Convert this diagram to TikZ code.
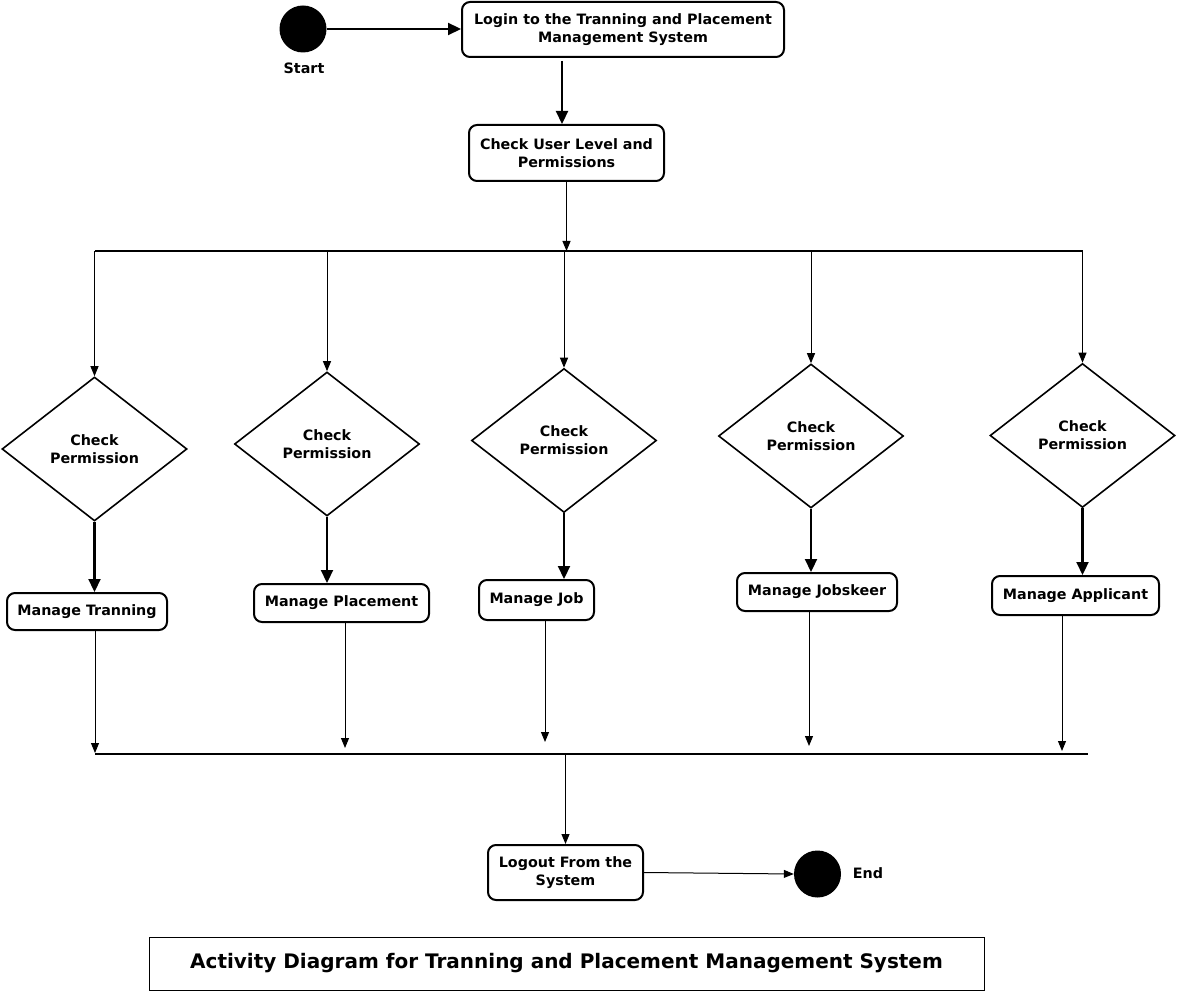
\documentclass[tikz,border=0pt]{standalone}
\usepackage{fontspec}
\setmainfont{DejaVu Sans}
\usetikzlibrary{shapes.geometric,arrows.meta}
\begin{document}
\begin{tikzpicture}[x=1pt,y=-1pt,
  lbl/.style={font=\fontsize{14.3}{18}\selectfont\bfseries, align=center},
  box/.style={draw, line width=2pt, rounded corners=8pt, inner sep=0pt, lbl},
  dec/.style={draw, diamond, line width=1.6pt, minimum width=185pt, minimum height=144pt, inner sep=0pt, lbl},
  dot/.style={circle, fill=black, minimum size=47pt, inner sep=0pt},
  thk/.style={line width=2.2pt, -{Triangle[length=13pt,width=12pt]}},
  thn/.style={line width=1pt, -{Triangle[length=10pt,width=8pt]}},
  bar/.style={line width=1.8pt}
]
\useasboundingbox[fill=white] (0,0) rectangle (1178,992);

% start / login / check
\node[dot] (start) at (303,29) {};
\node[lbl] (startl) at (304,68) {Start};
\node[box, minimum width=322pt, minimum height=55pt] (login) at (623,29.5) {Login to the Tranning and Placement\\Management System};
\node[box, minimum width=195pt, minimum height=56pt] (check) at (566.5,153) {Check User Level and\\Permissions};

% decisions
\node[dec] (d1) at (94.5,449) {Check\\Permission};
\node[dec] (d2) at (327,444) {Check\\Permission};
\node[dec] (d3) at (564,440.5) {Check\\Permission};
\node[dec] (d4) at (811,436) {Check\\Permission};
\node[dec] (d5) at (1082.5,435.5) {Check\\Permission};

% activities
\node[box, minimum width=160pt, minimum height=37pt] (m1) at (87,611.5) {Manage Tranning};
\node[box, minimum width=175pt, minimum height=38pt] (m2) at (341.5,603) {Manage Placement};
\node[box, minimum width=115pt, minimum height=40pt] (m3) at (536.5,600) {Manage Job};
\node[box, minimum width=160pt, minimum height=38pt] (m4) at (817,592) {Manage Jobskeer};
\node[box, minimum width=167pt, minimum height=39pt] (m5) at (1075.5,595.5) {Manage Applicant};

% logout / end
\node[box, minimum width=155pt, minimum height=55pt] (logout) at (565.5,872.5) {Logout From the\\System};
\node[dot] (end) at (817.5,874) {};
\node[lbl] (endl) at (868,873) {End};

% title
\node[draw, line width=1pt, minimum width=835pt, minimum height=53pt, inner sep=0pt,
      font=\fontsize{20}{24}\selectfont\bfseries] (title) at (566.5,963.5)
      {Activity Diagram for Tranning and Placement Management System};

% fork / join coordinates
\coordinate (lc) at (562,0);
\coordinate (forkL) at (95,251);
\coordinate (forkR) at (1083,251);
\coordinate (joinL) at (95,754);
\coordinate (joinR) at (1088,754);

% connectors
\draw[thk] (start.east) -- (login.west |- start.east);
\draw[thk] ([yshift=-3pt]login.south -| lc) -- (check.north -| lc);
\draw[bar] (forkL) -- (forkR);
\draw[thn] (check.south) -- (check.south |- forkL);
\foreach \d in {d1,d2,d3,d4,d5}{
  \draw[thn] (\d.north |- forkL) -- (\d.north);
}
\foreach \d/\m in {d1/m1,d2/m2,d3/m3,d4/m4,d5/m5}{
  \draw[thk] (\d.south) -- (\m.north -| \d.south);
}
\draw[bar] (joinL) -- (joinR);
\draw[thn] ([xshift=8pt]m1.south) -- ([xshift=8pt,yshift=1pt]m1.south |- joinL);
\draw[thn] ([xshift=3.5pt]m2.south) -- ([xshift=3.5pt,yshift=6pt]m2.south |- joinL);
\draw[thn] ([xshift=8.5pt]m3.south) -- ([xshift=8.5pt,yshift=12pt]m3.south |- joinL);
\draw[thn] ([xshift=-8pt]m4.south) -- ([xshift=-8pt,yshift=8pt]m4.south |- joinL);
\draw[thn] ([xshift=-13.5pt]m5.south) -- ([xshift=-13.5pt,yshift=3pt]m5.south |- joinL);
\draw[thn] (logout.north |- joinL) -- (logout.north);
\draw[thn] (logout.east) -- (end.west);
\end{tikzpicture}
\end{document}
